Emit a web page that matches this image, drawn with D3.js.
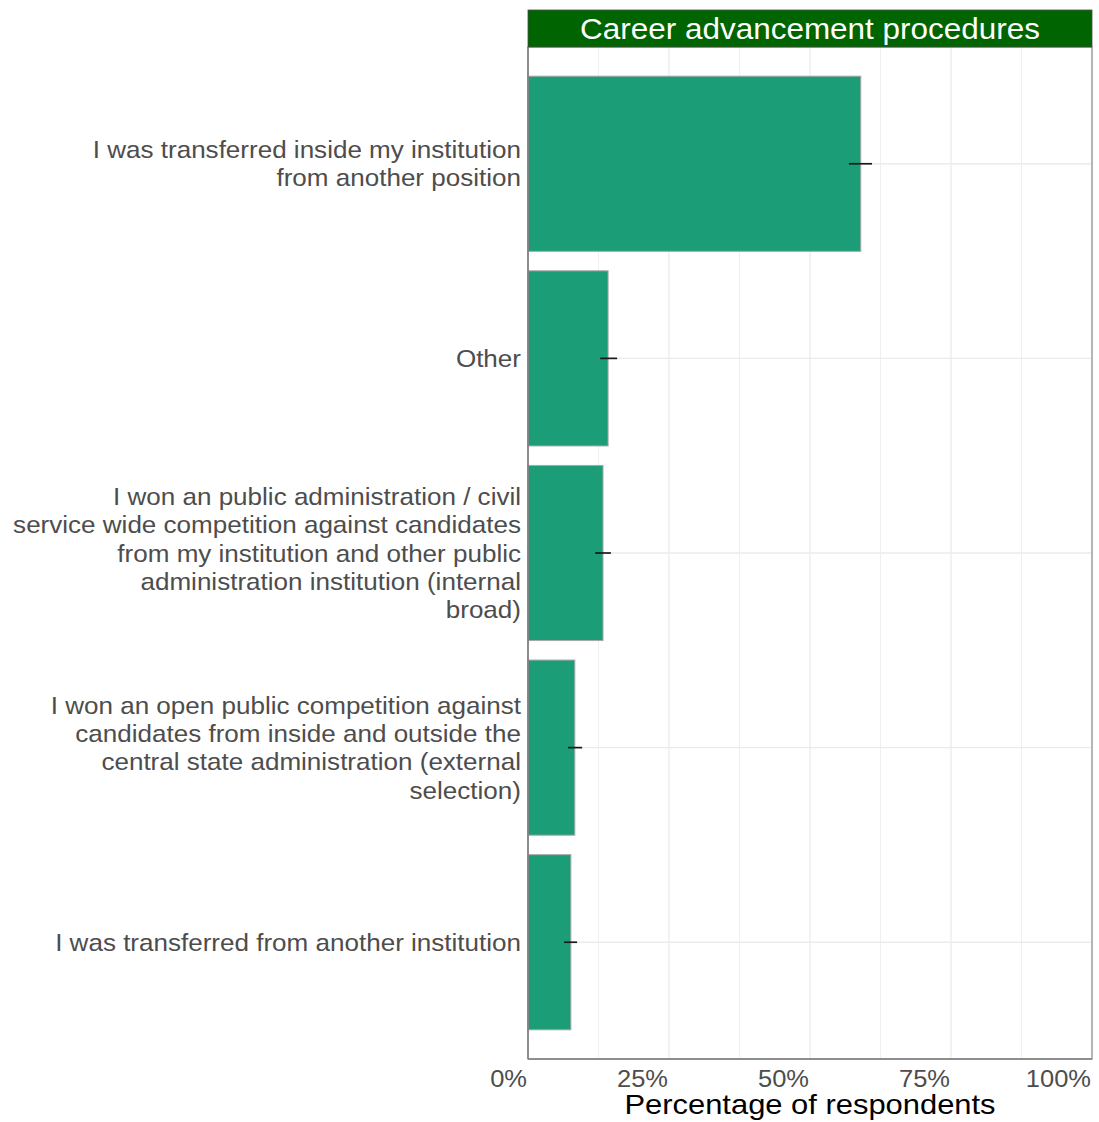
<!DOCTYPE html>
<html>
<head>
<meta charset="utf-8">
<script src="https://cdn.jsdelivr.net/npm/d3@7"></script>
<style>
  html, body { margin: 0; padding: 0; background: #fff; }
  svg { display: block; font-family: "Liberation Sans", Arial, sans-serif; }
</style>
</head>
<body>
<svg id="chart" width="1099" height="1122"></svg>
<script>
// ---- data ----
const categories = [
  ["I was transferred inside my institution", "from another position"],
  ["Other"],
  ["I won an public administration / civil", "service wide competition against candidates", "from my institution and other public", "administration institution (internal", "broad)"],
  ["I won an open public competition against", "candidates from inside and outside the", "central state administration (external", "selection)"],
  ["I was transferred from another institution"]
];
const values = [0.59, 0.142, 0.133, 0.083, 0.076];
const lowerCI = [0.569, 0.128, 0.119, 0.071, 0.064];
const upperCI = [0.610, 0.158, 0.147, 0.096, 0.087];
const xTicks = [0, 0.25, 0.5, 0.75, 1];
const xTickLabels = ["0%", "25%", "50%", "75%", "100%"];
const minorTicks = [0.125, 0.375, 0.625, 0.875];
const stripTitle = "Career advancement procedures";
const xTitle = "Percentage of respondents";

// ---- layout ----
const SX = 1.085; // horizontal text stretch seen in reference
const svg = d3.select("#chart");
const panel = { left: 528, right: 1092, top: 47, bottom: 1059 };
const strip = { top: 10, bottom: 47 };

const x = d3.scaleLinear().domain([0, 1]).range([panel.left, panel.right]);
const idx = d3.range(categories.length);
const unit = (panel.bottom - panel.top) / (categories.length - 1 + 1.2);
const y = d3.scaleLinear().domain([-0.6, categories.length - 1 + 0.6]).range([panel.top, panel.bottom]);
const barH = unit * 0.9;

function stretchedText(parent, ax, ay) {
  return parent.append("g").attr("transform", `translate(${ax},${ay}) scale(${SX},1)`)
    .append("text").attr("x", 0).attr("y", 0);
}

// panel background
svg.append("rect").attr("x", panel.left).attr("y", panel.top)
  .attr("width", panel.right - panel.left).attr("height", panel.bottom - panel.top)
  .attr("fill", "#fff");

// grid lines
const g = svg.append("g");
g.selectAll("line.minor").data(minorTicks).join("line")
  .attr("x1", d => x(d)).attr("x2", d => x(d))
  .attr("y1", panel.top).attr("y2", panel.bottom)
  .attr("stroke", "#ebebeb").attr("stroke-width", 0.8);
g.selectAll("line.major").data(xTicks).join("line")
  .attr("x1", d => x(d)).attr("x2", d => x(d))
  .attr("y1", panel.top).attr("y2", panel.bottom)
  .attr("stroke", "#ebebeb").attr("stroke-width", 1.3);
g.selectAll("line.hmajor").data(idx).join("line")
  .attr("x1", panel.left).attr("x2", panel.right)
  .attr("y1", d => y(d)).attr("y2", d => y(d))
  .attr("stroke", "#ebebeb").attr("stroke-width", 1.3);

// bars
svg.append("g").selectAll("rect").data(idx).join("rect")
  .attr("x", x(0))
  .attr("y", d => y(d) - barH / 2)
  .attr("width", d => x(values[d]) - x(0))
  .attr("height", barH)
  .attr("fill", "#1b9e77")
  .attr("stroke", "#a8a8a8")
  .attr("stroke-width", 1);

// error bars
svg.append("g").selectAll("line").data(idx).join("line")
  .attr("x1", d => x(lowerCI[d])).attr("x2", d => x(upperCI[d]))
  .attr("y1", d => y(d)).attr("y2", d => y(d))
  .attr("stroke", "#1a1a1a").attr("stroke-width", 1.7);

// panel border
svg.append("rect").attr("x", panel.left).attr("y", panel.top)
  .attr("width", panel.right - panel.left).attr("height", panel.bottom - panel.top)
  .attr("fill", "none").attr("stroke", "#8c8c8c").attr("stroke-width", 1.2);
svg.append("line").attr("x1", panel.left).attr("x2", panel.left)
  .attr("y1", panel.top).attr("y2", panel.bottom).attr("stroke", "#7f7f7f").attr("stroke-width", 1.5);
svg.append("line").attr("x1", panel.left).attr("x2", panel.right)
  .attr("y1", panel.bottom).attr("y2", panel.bottom).attr("stroke", "#7f7f7f").attr("stroke-width", 1.5);

// strip
svg.append("rect").attr("x", panel.left).attr("y", strip.top)
  .attr("width", panel.right - panel.left).attr("height", strip.bottom - strip.top)
  .attr("fill", "#006400").attr("stroke", "#4d4d4d").attr("stroke-width", 0.8);
stretchedText(svg, (panel.left + panel.right) / 2, 39)
  .attr("text-anchor", "middle").attr("fill", "#ffffff")
  .attr("font-size", 29).text(stripTitle);

// x tick labels (right-aligned at tick)
xTicks.forEach((d, i) => {
  stretchedText(svg, x(d) - 1, 1087)
    .attr("text-anchor", "end").attr("fill", "#4d4d4d")
    .attr("font-size", 23.5).text(xTickLabels[i]);
});

// x title
stretchedText(svg, (panel.left + panel.right) / 2, 1114)
  .attr("text-anchor", "middle").attr("fill", "#000")
  .attr("font-size", 28.5).text(xTitle);

// y labels
const lineH = 28.4;
idx.forEach(i => {
  const lines = categories[i];
  const n = lines.length;
  const t = stretchedText(svg, 521, y(i))
    .attr("text-anchor", "end").attr("fill", "#4d4d4d").attr("font-size", 24);
  lines.forEach((ln, k) => {
    t.append("tspan").attr("x", 0)
      .attr("y", (k - (n - 1) / 2) * lineH + 8.5)
      .text(ln);
  });
});
</script>
</body>
</html>
